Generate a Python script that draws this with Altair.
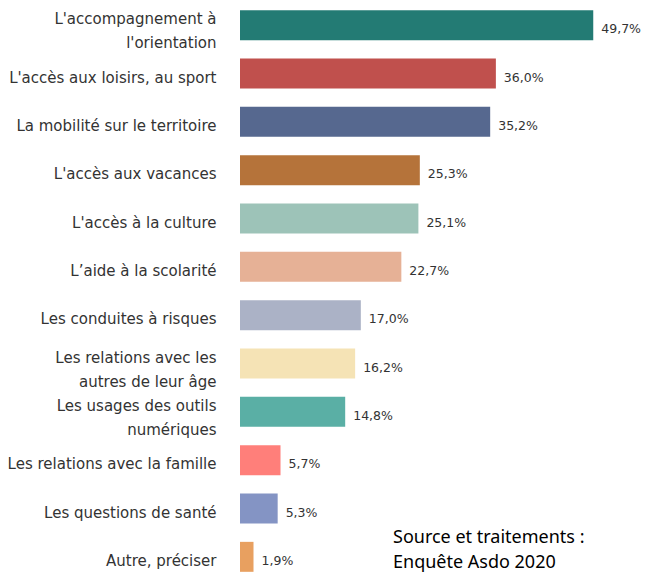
import altair as alt
import pandas as pd

categories = [
    "L'accompagnement à|l'orientation",
    "L'accès aux loisirs, au sport",
    "La mobilité sur le territoire",
    "L'accès aux vacances",
    "L'accès à la culture",
    "L’aide à la scolarité",
    "Les conduites à risques",
    "Les relations avec les|autres de leur âge",
    "Les usages des outils|numériques",
    "Les relations avec la famille",
    "Les questions de santé",
    "Autre, préciser",
]
values = [49.7, 36.0, 35.2, 25.3, 25.1, 22.7, 17.0, 16.2, 14.8, 5.7, 5.3, 1.9]
colors = [
    "#237B74", "#C0504D", "#56688F", "#B5733A", "#9DC3B8", "#E6B196",
    "#ABB2C6", "#F5E3B5", "#5AAFA5", "#FF7F7A", "#8494C4", "#E8A060",
]
value_labels = [f"{v:.1f}%".replace(".", ",") for v in values]
source_text = "Source et traitements :\nEnquête Asdo 2020"

df = pd.DataFrame({"cat": categories, "value": values, "label": value_labels})

y_enc = alt.Y(
    "cat:N",
    sort=categories,
    scale=alt.Scale(paddingInner=0.38, paddingOuter=0.19),
    axis=alt.Axis(
        title=None, domain=False, ticks=False, grid=False,
        labelExpr="split(datum.label, '|')",
        labelFont="DejaVu Sans", labelFontSize=15, labelColor="#333333",
        labelPadding=24, labelLineHeight=24, labelLimit=300,
        labelOffset={"condition": {"test": "indexof(datum.value, '|') >= 0", "value": -6}, "value": 4},
    ),
)
x_scale = alt.Scale(domain=[0, 56.7], nice=False)

base = alt.Chart(df).encode(y=y_enc)

bars = base.mark_bar().encode(
    x=alt.X("value:Q", scale=x_scale, axis=None),
    color=alt.Color("cat:N", scale=alt.Scale(domain=categories, range=colors), legend=None),
)

texts = base.mark_text(
    align="left", dx=8, dy=4, font="DejaVu Sans", fontSize=12.5, color="#333333"
).encode(
    x=alt.X("value:Q", scale=x_scale, axis=None),
    text="label:N",
)

source = alt.Chart(pd.DataFrame({"t": [source_text]})).mark_text(
    align="left", baseline="top", lineBreak="\n", lineHeight=25,
    font="Noto Sans", fontSize=18, color="#000000",
).encode(text="t:N", x=alt.value(153), y=alt.value(528))

chart = alt.layer(bars, texts, source).properties(
    width=403, height=580,
    padding={"left": 232, "top": -7, "right": 0, "bottom": 0},
    autosize="none",
).configure_view(stroke=None)

chart.save("out.html", embed_options={"renderer": "svg", "actions": False})
